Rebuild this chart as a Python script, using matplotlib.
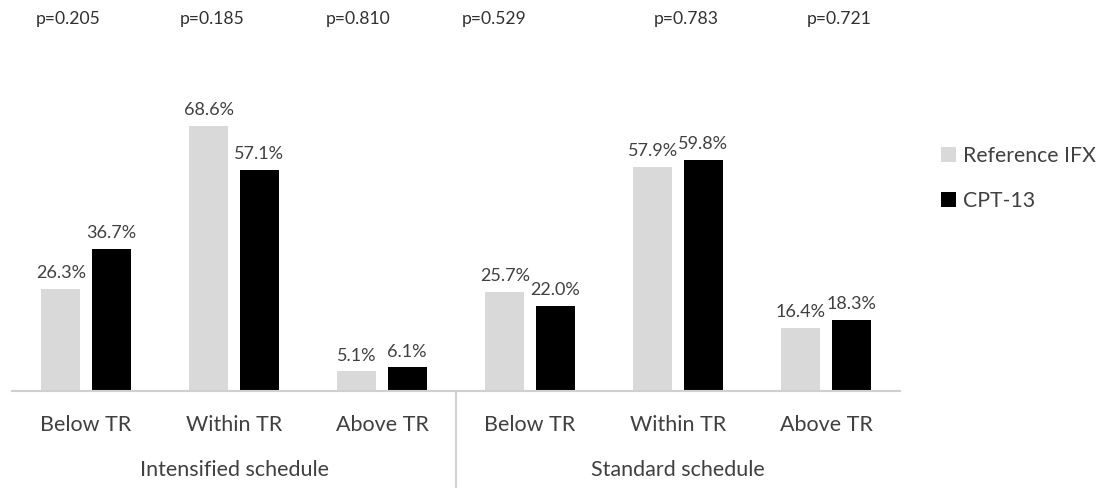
import matplotlib
matplotlib.use("Agg")
import matplotlib.pyplot as plt
import numpy as np

plt.rcParams['font.family'] = ['Lato', 'DejaVu Sans']

categories = ["Below TR", "Within TR", "Above TR", "Below TR", "Within TR", "Above TR"]
groups = ["Intensified schedule", "Standard schedule"]
series_names = ["Reference IFX", "CPT-13"]
reference_ifx = [26.3, 68.6, 5.1, 25.7, 57.9, 16.4]
cpt13 = [36.7, 57.1, 6.1, 22.0, 59.8, 18.3]
p_values = ["p=0.205", "p=0.185", "p=0.810", "p=0.529", "p=0.783", "p=0.721"]

W, H = 1116, 488
fig = plt.figure(figsize=(W / 100, H / 100), dpi=100)
x0, x1, ybase, ytop = 12, 900, 391, 60
ax = fig.add_axes([x0 / W, 1 - ybase / H, (x1 - x0) / W, (ybase - ytop) / H])

n = len(categories)
x = np.arange(n)
bw = 0.265
gap = 0.075
c_ref = "#d9d9d9"
c_cpt = "#000000"
txt = "#404040"
ax.bar(x - (bw + gap) / 2, reference_ifx, bw, color=c_ref, label=series_names[0])
ax.bar(x + (bw + gap) / 2, cpt13, bw, color=c_cpt, label=series_names[1])

for i in range(n):
    ax.text(x[i] - (bw + gap) / 2, reference_ifx[i] + 2.0, f"{reference_ifx[i]:.1f}%",
            ha="center", va="bottom", fontsize=13, color=txt)
    ax.text(x[i] + (bw + gap) / 2, cpt13[i] + 2.0, f"{cpt13[i]:.1f}%",
            ha="center", va="bottom", fontsize=13, color=txt)

ax.set_xlim(-0.5, n - 0.5)
ax.set_ylim(0, (ybase - ytop) / 3.87)
for s in ["top", "right", "left"]:
    ax.spines[s].set_visible(False)
ax.spines["bottom"].set_color("#d0d0d0")
ax.spines["bottom"].set_linewidth(1.5)
ax.set_yticks([])
ax.set_xticks([])

ah = ybase - ytop
# category labels
for i in range(n):
    ax.text(x[i], -34 / ah, categories[i], transform=ax.get_xaxis_transform(),
            ha="center", va="center", fontsize=15.5, color=txt)
# group labels
for g, gname in enumerate(groups):
    ax.text(g * 3 + 1, -79 / ah, gname, transform=ax.get_xaxis_transform(),
            ha="center", va="center", fontsize=15.5, color=txt)
# separator line
ax.plot([2.5, 2.5], [0, -100 / ah], transform=ax.get_xaxis_transform(),
        color="#c8c8c8", lw=1.2, clip_on=False)

# p-values
p_x = [68, 212, 358, 494, 686, 839]
for px, pv in zip(p_x, p_values):
    fig.text(px / W, 1 - 19 / H, pv, ha="center", va="center", fontsize=12.6, color="#303030")

leg = fig.legend(loc="upper left", bbox_to_anchor=(922 / W, 1 - 127 / H), frameon=False,
                 fontsize=15.3, handlelength=0.7, handleheight=0.7, handletextpad=0.35,
                 labelspacing=1.15, labelcolor=txt)

fig.savefig("out.png", dpi=100)
